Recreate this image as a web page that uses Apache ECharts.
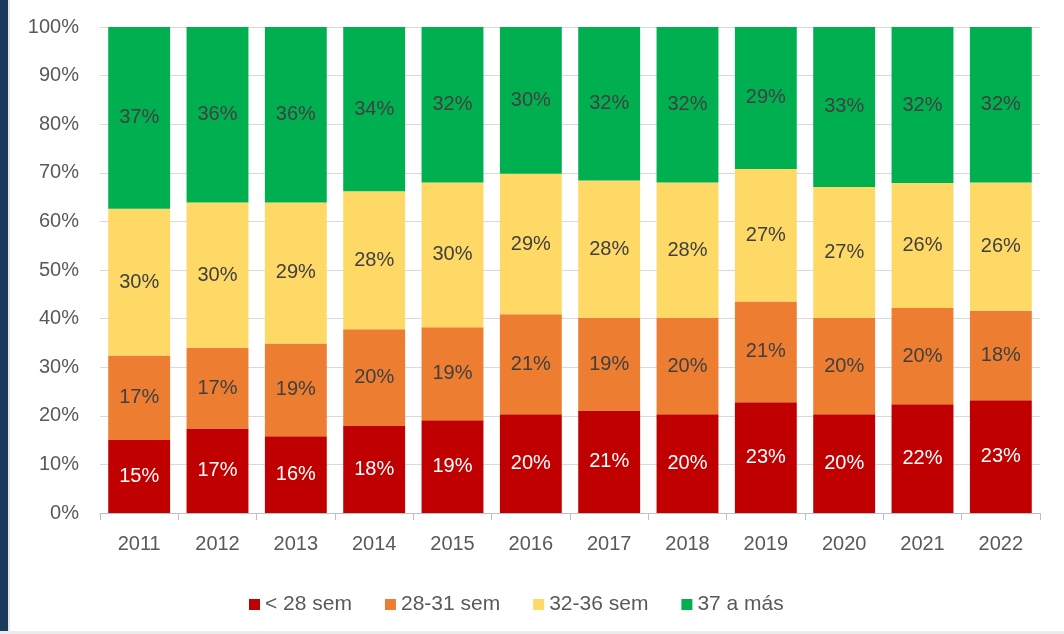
<!DOCTYPE html>
<html>
<head>
<meta charset="utf-8">
<script src="https://cdn.jsdelivr.net/npm/echarts@6/dist/echarts.min.js"></script>
<style>
  html, body { margin: 0; padding: 0; background: #fff; }
  #main { width: 1064px; height: 634px; }
</style>
</head>
<body>
<div id="main"></div>
<script>
// años
const years = ['2011', '2012', '2013', '2014', '2015', '2016', '2017', '2018', '2019', '2020', '2021', '2022'];

// porcentajes por grupo de edad gestacional
const menos28 = [15.0, 17.4, 15.8, 17.9, 19.1, 20.3, 21.1, 20.3, 22.8, 20.3, 22.4, 23.2];
const sem28a31 = [17.4, 16.6, 19.1, 19.9, 19.1, 20.6, 19.1, 19.9, 20.7, 19.9, 19.8, 18.4];
const sem32a36 = [30.2, 29.9, 29.0, 28.4, 29.8, 28.9, 28.2, 27.8, 27.3, 26.9, 25.7, 26.4];
const sem37mas = [37.4, 36.1, 36.1, 33.8, 32.0, 30.2, 31.6, 32.0, 29.2, 32.9, 32.1, 32.0];

const names = ['< 28 sem', '28-31 sem', '32-36 sem', '37 a más'];
const colors = ['#C00000', '#ED7D31', '#FFD966', '#00B050'];
const labelColors = ['#ffffff', '#404040', '#404040', '#404040'];
const FONT = 'Liberation Sans';

const myChart = echarts.init(document.getElementById('main'));

const mkSeries = (name, data, i) => ({
  name: name,
  type: 'bar',
  stack: 'total',
  data: data,
  barCategoryGap: '21%',
  itemStyle: { color: colors[i] },
  label: {
    show: true,
    position: 'inside',
    color: labelColors[i],
    fontFamily: FONT,
    fontSize: 20,
    formatter: p => Math.round(p.value) + '%'
  },
  emphasis: { disabled: true }
});

const option = {
  animation: false,
  color: colors,
  textStyle: { fontFamily: FONT },
  graphic: [
    { type: 'rect', left: 0, top: 0, shape: { width: 8, height: 634 }, style: { fill: '#1b3a5c' } },
    { type: 'rect', left: 8, top: 0, shape: { width: 2, height: 634 }, style: { fill: '#e6e6e6' } },
    { type: 'rect', left: 0, top: 631, shape: { width: 1064, height: 3 }, style: { fill: '#ececec' } }
  ],
  grid: { left: 100, right: 24, top: 27, bottom: 121 },
  legend: {
    bottom: 14,
    left: 244,
    itemWidth: 11,
    itemHeight: 11,
    itemGap: 33,
    icon: 'rect',
    textStyle: { color: '#595959', fontSize: 21, fontFamily: FONT },
    data: names
  },
  xAxis: {
    type: 'category',
    data: years,
    axisLine: { lineStyle: { color: '#bfbfbf' } },
    axisTick: { show: true, length: 7, lineStyle: { color: '#bfbfbf' } },
    axisLabel: { color: '#595959', fontSize: 20, margin: 21, fontFamily: FONT }
  },
  yAxis: {
    type: 'value',
    min: 0,
    max: 100,
    interval: 10,
    axisLine: { show: false },
    axisTick: { show: false },
    splitLine: { lineStyle: { color: '#d9d9d9' } },
    axisLabel: { color: '#595959', fontSize: 20, margin: 21, fontFamily: FONT, formatter: '{value}%' }
  },
  series: [
    mkSeries(names[0], menos28, 0),
    mkSeries(names[1], sem28a31, 1),
    mkSeries(names[2], sem32a36, 2),
    mkSeries(names[3], sem37mas, 3)
  ]
};

myChart.setOption(option);
</script>
</body>
</html>
